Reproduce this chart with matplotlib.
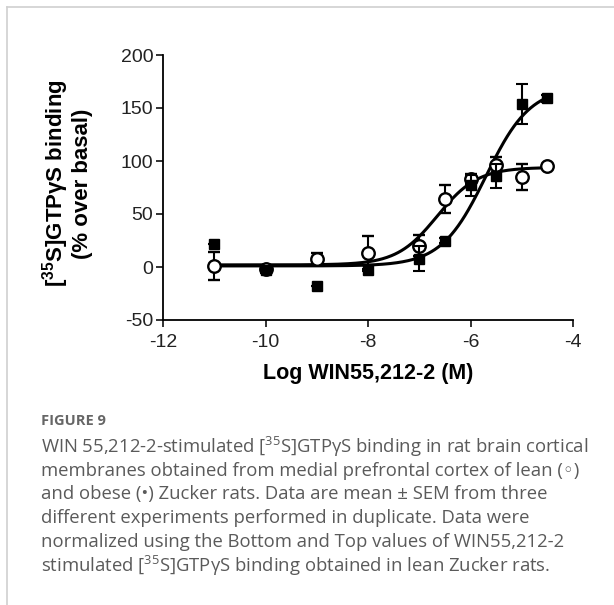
import numpy as np
import matplotlib
matplotlib.use('Agg')
import matplotlib.pyplot as plt
from matplotlib.lines import Line2D

plt.rcParams['mathtext.fontset'] = 'custom'
plt.rcParams['mathtext.rm'] = 'Open Sans'
plt.rcParams['mathtext.bf'] = 'Liberation Sans:bold'

# log [WIN55,212-2] (M)
log_conc = [-11, -10, -9, -8, -7, -6.5, -6, -5.5, -5, -4.5]

# lean Zucker rats (open circles)
lean_mean = [1, -2, 8, 13, 20, 64, 83, 96, 85, 95]
lean_sem = [13, 2, 5, 16, 10, 13, 5, 8, 12, 2]

# obese Zucker rats (filled squares)
obese_mean = [22, -3, -18, -3, 8, 25, 77, 86, 154, 159]
obese_sem = [0, 3, 0, 1, 12, 2, 10, 11, 19, 3]

# sigmoidal fit parameters: bottom, top, logEC50, hill slope
lean_fit = (2, 94, -6.65, 1.1)
obese_fit = (1, 170, -5.7, 1.0)

x_ticks = [-12, -10, -8, -6, -4]
y_ticks = [-50, 0, 50, 100, 150, 200]

caption_lines = [
    r'WIN 55,212-2-stimulated [$^{\mathrm{35}}$S]GTPγS binding in rat brain cortical',
    'membranes obtained from medial prefrontal cortex of lean (◦)',
    'and obese (•) Zucker rats. Data are mean ± SEM from three',
    'different experiments performed in duplicate. Data were',
    'normalized using the Bottom and Top values of WIN55,212-2',
    r'stimulated [$^{\mathrm{35}}$S]GTPγS binding obtained in lean Zucker rats.',
]


def hill(x, bottom, top, logec50, slope):
    return bottom + (top - bottom) / (1 + 10 ** ((logec50 - x) * slope))


fig = plt.figure(figsize=(6.14, 6.05), dpi=100)
ax = fig.add_axes([163 / 614, 1 - 320 / 605, 410 / 614, 265 / 605])

xs = np.linspace(-11, -4.5, 300)
ax.plot(xs, hill(xs, *lean_fit), color='black', lw=2.2, zorder=2)
ax.plot(xs, hill(xs, *obese_fit), color='black', lw=2.2, zorder=2)

ax.errorbar(log_conc, lean_mean, yerr=lean_sem, fmt='o', mfc='white', mec='black',
            mew=1.7, color='black', ms=9, capsize=4.5, elinewidth=1.5,
            capthick=1.5, zorder=3)
ax.errorbar(log_conc, obese_mean, yerr=obese_sem, fmt='s', color='black',
            ms=7, capsize=4.5, elinewidth=1.5, capthick=1.5, zorder=4)

ax.set_xlim(-12, -4)
ax.set_ylim(-50, 200)
ax.set_xticks(x_ticks)
ax.set_yticks(y_ticks)
ax.set_xticklabels([str(t) for t in x_ticks], family='Liberation Sans', fontsize=14)
ax.set_yticklabels([str(t) for t in y_ticks], family='Liberation Sans', fontsize=14)
for s in ['top', 'right']:
    ax.spines[s].set_visible(False)
for s in ['left', 'bottom']:
    ax.spines[s].set_linewidth(1.3)
ax.tick_params(direction='out', length=5, width=1.3, colors='#222222')
ax.tick_params(axis='x', pad=5)
ax.tick_params(axis='y', pad=2)

ax.set_xlabel('Log WIN55,212-2 (M)', family='Liberation Sans', fontweight='bold',
              fontsize=15.5, labelpad=9)
ax.set_ylabel('[$^{\\mathbf{35}}$S]GTPγS binding\n(% over basal)',
              family='Liberation Sans', fontweight='bold', fontsize=16,
              linespacing=1.05)
ax.yaxis.set_label_coords(-0.171, 0.515)

# card border
fig.add_artist(Line2D([7 / 614, 7 / 614], [0, 1 - 7 / 605], color='#d0d0d0', lw=1.2))
fig.add_artist(Line2D([7 / 614, 1], [1 - 7 / 605, 1 - 7 / 605], color='#d0d0d0', lw=1.2))

fig.text(41 / 614, 1 - 421 / 605, 'FIGURE 9', family='Open Sans', fontweight='bold',
         fontsize=10.5, color='#666666', va='center')
for i, line in enumerate(caption_lines):
    fig.text(41 / 614, 1 - (447 + i * 23.7) / 605, line,
             family=['Open Sans', 'DejaVu Sans'],
             fontsize=13.3, color='#5a5a5a', va='center')

fig.savefig('out.png', dpi=100)
